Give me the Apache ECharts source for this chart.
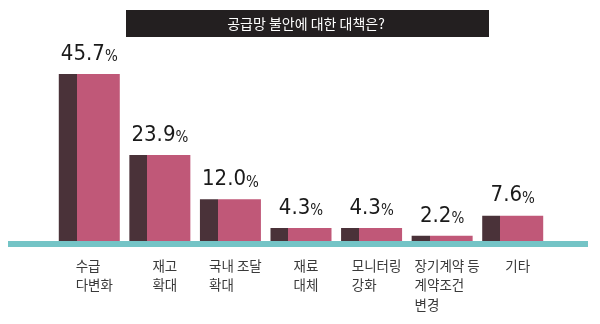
<!DOCTYPE html>
<html>
<head>
<meta charset="utf-8">
<script src="https://cdn.jsdelivr.net/npm/echarts@6/dist/echarts.min.js"></script>
<style>
  html, body { margin: 0; padding: 0; background: #ffffff; }
  #chart { width: 600px; height: 324px; }
</style>
</head>
<body>
<div id="chart"></div>
<script>
// Survey: countermeasures against supply-chain instability (%)
const titleText = '공급망 불안에 대한 대책은?';
const categories = [
  '수급\n다변화',
  '재고\n확대',
  '국내 조달\n확대',
  '재료\n대체',
  '모니터링\n강화',
  '장기계약 등\n계약조건\n변경',
  '기타'
];
const shares = [45.7, 23.9, 12.0, 4.3, 4.3, 2.2, 7.6];

const DARK = '#4a3239';
const PINK = '#c05878';
const TEAL = '#74c4c6';

const chart = echarts.init(document.getElementById('chart'), null, { renderer: 'canvas' });

// Two-tone bar face: a narrow dark strip on the left, pink on the right
const barFill = new echarts.graphic.LinearGradient(0, 0, 1, 0, [
  { offset: 0, color: DARK },
  { offset: 0.295, color: DARK },
  { offset: 0.295, color: PINK },
  { offset: 1, color: PINK }
]);

const numFont = '"DejaVu Sans Condensed", "Liberation Sans Narrow", sans-serif';

chart.setOption({
  animation: false,
  backgroundColor: '#ffffff',
  grid: { left: 54, right: 52, top: 58, bottom: 80, containLabel: false },
  xAxis: {
    type: 'category',
    data: categories,
    axisLine: { show: false },
    axisTick: { show: false },
    axisLabel: {
      interval: 0,
      margin: 12,
      padding: [0, 0, 0, 10],
      formatter: function (v) {
        return v.split('\n').map(function (s) { return '{a|' + s + '}'; }).join('\n');
      },
      rich: {
        a: {
          align: 'left',
          fontFamily: '"Noto Sans CJK KR", sans-serif',
          fontSize: 13.5,
          lineHeight: 19.5,
          color: '#3a3a3a'
        }
      }
    }
  },
  yAxis: {
    type: 'value',
    min: 0,
    max: 50,
    show: false,
    splitLine: { show: false }
  },
  series: [{
    type: 'bar',
    data: shares,
    barWidth: 61,
    itemStyle: { color: barFill },
    label: {
      show: true,
      position: 'top',
      distance: 9,
      formatter: function (p) { return '{n|' + p.value.toFixed(1) + '}{p|%}'; },
      rich: {
        n: {
          fontFamily: numFont,
          fontSize: 22,
          lineHeight: 24,
          color: '#1a1a1a',
          verticalAlign: 'bottom'
        },
        p: {
          fontFamily: numFont,
          fontSize: 15,
          lineHeight: 18,
          color: '#1a1a1a',
          verticalAlign: 'bottom'
        }
      }
    }
  }],
  graphic: [
    {
      type: 'rect',
      z: 100,
      shape: { x: 8, y: 241, width: 580, height: 6 },
      style: { fill: TEAL }
    },
    {
      type: 'group',
      z: 100,
      children: [
        {
          type: 'rect',
          shape: { x: 126, y: 10, width: 363, height: 27 },
          style: { fill: '#231f20' }
        },
        {
          type: 'text',
          x: 306,
          y: 24,
          style: {
            text: titleText,
            fill: '#ffffff',
            fontFamily: '"Noto Sans CJK KR", sans-serif',
            fontSize: 14,
            align: 'center',
            verticalAlign: 'middle'
          }
        }
      ]
    }
  ]
});
</script>
</body>
</html>
